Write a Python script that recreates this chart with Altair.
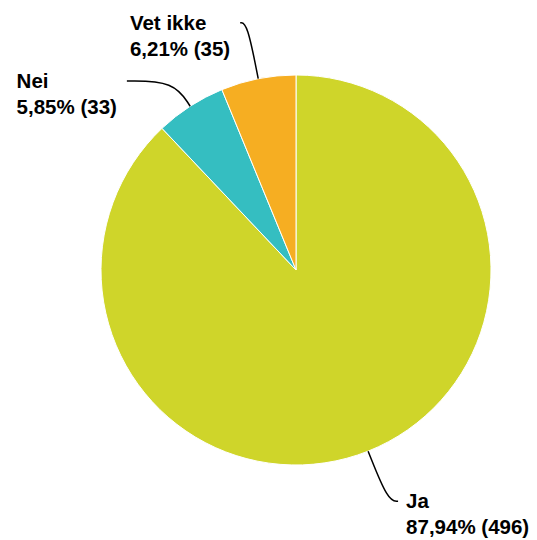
import math
import altair as alt
import pandas as pd

# ---- data ----
categories = ["Ja", "Nei", "Vet ikke"]
counts = [496, 33, 35]
colors = ["#cfd52a", "#35bec1", "#f6ae22"]

# ---- layout (pixels, chart coordinates) ----
CX, CY, R = 288, 262, 195
elbow_len = [54, 30, 57]     # radial length of leader line beyond pie edge
horiz_len = [10, 47, 7]      # horizontal run of leader line
gaps = [8, 10, 10]           # gap between leader line end and label
FS = 20.5
LH = 26
FONT = "Liberation Sans"

# Arial/Liberation Sans Bold advance widths (per 1000 em)
W = {c: 556 for c in "0123456789"}
W.update({",": 278, "%": 889, " ": 278, "(": 333, ")": 333, "N": 722, "e": 556,
          "i": 278, "V": 667, "t": 333, "k": 556, "J": 556, "a": 556})


def text_width(s):
    return sum(W.get(c, 556) for c in s) * FS / 1000.0


total = sum(counts)
pie_df = pd.DataFrame({"cat": categories, "count": counts, "idx": list(range(len(categories)))})

line_rows, text_rows = [], []
cum = 0
for i, (cat, n) in enumerate(zip(categories, counts)):
    mid = (cum + n / 2) / total * 2 * math.pi
    cum += n
    s, c = math.sin(mid), math.cos(mid)
    ex, ey = CX + R * s, CY - R * c
    bx, by = CX + (R + elbow_len[i]) * s, CY - (R + elbow_len[i]) * c
    side = 1 if s >= 0 else -1
    fx, fy = bx + side * horiz_len[i], by
    for k, (px, py) in enumerate([(ex, ey), (bx, by), (fx, fy)]):
        line_rows.append({"cat": cat, "step": k, "x": px, "y": py})
    pct = f"{n / total * 100:.2f}".replace(".", ",") + f"% ({n})"
    lines = [cat, pct]
    block_w = max(text_width(t) for t in lines)
    tx = fx + gaps[i] if side > 0 else fx - gaps[i] - block_w
    for j, t in enumerate(lines):
        text_rows.append({"cat": cat, "t": t, "x": tx, "y": fy + 7 + j * LH})

line_df = pd.DataFrame(line_rows)
text_df = pd.DataFrame(text_rows)

pie = alt.Chart(pie_df).mark_arc(outerRadius=R, stroke="white", strokeWidth=1).encode(
    theta=alt.Theta("count:Q", stack=True),
    color=alt.Color("cat:N", scale=alt.Scale(domain=categories, range=colors), legend=None),
    order=alt.Order("idx:Q"),
    x=alt.value(CX),
    y=alt.value(CY),
)

leaders = alt.Chart(line_df).mark_line(interpolate="basis", color="black", strokeWidth=1.5).encode(
    x=alt.X("x:Q", scale=None, axis=None),
    y=alt.Y("y:Q", scale=None, axis=None),
    detail="cat:N",
    order="step:Q",
)

labels = alt.Chart(text_df).mark_text(
    align="left", baseline="alphabetic", font=FONT, fontWeight="bold", fontSize=FS, color="#000000"
).encode(
    x=alt.X("x:Q", scale=None, axis=None),
    y=alt.Y("y:Q", scale=None, axis=None),
    text="t:N",
)

chart = alt.layer(pie, leaders, labels).properties(
    width=521, height=532, padding=0, autosize="none"
).configure_view(stroke=None)

chart.save("out.html", embed_options={"renderer": "svg", "actions": False})
